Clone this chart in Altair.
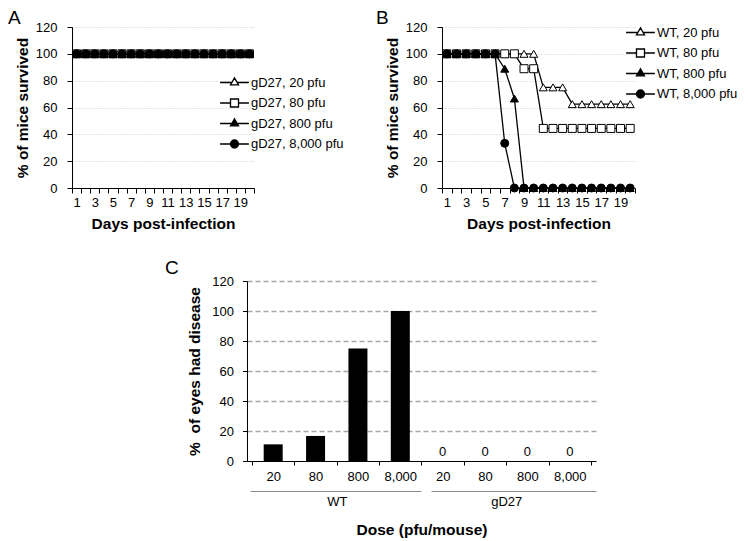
import json
import altair as alt
import pandas as pd

FONT = "Liberation Sans"

# ---------------- data ----------------
days = [1, 2, 3, 4, 5, 6, 7, 8, 9, 10, 11, 12, 13, 14, 15, 16, 17, 18, 19, 20]

gd27_series = ["gD27, 20 pfu", "gD27, 80 pfu", "gD27, 800 pfu", "gD27, 8,000 pfu"]
gd27_20 = [100, 100, 100, 100, 100, 100, 100, 100, 100, 100, 100, 100, 100, 100, 100, 100, 100, 100, 100, 100]
gd27_80 = [100, 100, 100, 100, 100, 100, 100, 100, 100, 100, 100, 100, 100, 100, 100, 100, 100, 100, 100, 100]
gd27_800 = [100, 100, 100, 100, 100, 100, 100, 100, 100, 100, 100, 100, 100, 100, 100, 100, 100, 100, 100, 100]
gd27_8000 = [100, 100, 100, 100, 100, 100, 100, 100, 100, 100, 100, 100, 100, 100, 100, 100, 100, 100, 100, 100]

wt_series = ["WT, 20 pfu", "WT, 80 pfu", "WT, 800 pfu", "WT, 8,000 pfu"]
wt_20 = [100, 100, 100, 100, 100, 100, 100, 100, 100, 100, 75, 75, 75, 62.5, 62.5, 62.5, 62.5, 62.5, 62.5, 62.5]
wt_80 = [100, 100, 100, 100, 100, 100, 100, 100, 88.9, 88.9, 44.4, 44.4, 44.4, 44.4, 44.4, 44.4, 44.4, 44.4, 44.4, 44.4]
wt_800 = [100, 100, 100, 100, 100, 100, 88.9, 66.7, 0, 0, 0, 0, 0, 0, 0, 0, 0, 0, 0, 0]
wt_8000 = [100, 100, 100, 100, 100, 100, 33.3, 0, 0, 0, 0, 0, 0, 0, 0, 0, 0, 0, 0, 0]

dose_labels = ["20", "80", "800", "8,000"]
groups = ["WT", "gD27"]
eyes_wt = [11.1, 16.7, 75, 100]
eyes_gd27 = [0, 0, 0, 0]

# marker styles
plot_shapes = ["triangle-up", "square", "triangle-up", "circle"]
fills = ["white", "white", "black", "black"]
strokes = ["black", "black", "black", "black"]
tri = "M0,-1.155L-1,0.577L1,0.577Z"
sq = "M-1,-1H1V1H-1Z"
circ = "M1,0A1,1,0,1,1,-1,0A1,1,0,1,1,1,0Z"
stub_t = "M-3.6,0H-0.67M0.67,0H3.6"
stub_s = "M-3.6,0H-1M1,0H3.6"
legend_shapes = [stub_t + tri, stub_s + sq, stub_t + tri, stub_s + circ]

common = dict(domainColor="black", tickColor="black", labelColor="black",
              titleColor="black", labelFont=FONT, titleFont=FONT, labelFontSize=13,
              titleFontSize=15.5, titleFontWeight="bold", domainWidth=1, tickWidth=1)


def survival(letter, series, values, width, leg_x, leg_y, letter_dx):
    rows = []
    for s, vals in zip(series, values):
        for d, v in zip(days, vals):
            rows.append({"series": s, "day": d, "pct": v})
    df = pd.DataFrame(rows)
    base = alt.Chart(df)
    x = alt.X("day:Q",
              scale=alt.Scale(domain=[0.5, 20.5], nice=False, zero=False),
              axis=alt.Axis(values=[i / 2 for i in range(1, 42)],
                            labelExpr="datum.value % 2 == 1 ? format(datum.value, 'd') : ''",
                            tickOpacity={"condition": {"test": "datum.value % 1 == 0", "value": 0}, "value": 1},
                            tickSize=5, labelPadding=3, labelOverlap=False, labelFlush=False,
                            grid=False, title="Days post-infection", titlePadding=7, **common))
    y = alt.Y("pct:Q",
              scale=alt.Scale(domain=[0, 120], nice=False),
              axis=alt.Axis(values=[0, 20, 40, 60, 80, 100, 120], title="% of mice survived",
                            tickSize=5, labelPadding=10, titlePadding=5, grid=True,
                            gridColor="#c8c8c8", gridDash=[1, 2], gridWidth=1,
                            gridOpacity={"condition": {"test": "datum.value == 0", "value": 0}, "value": 1},
                            **common))
    lines = base.mark_line(color="black", strokeWidth=1.3).encode(
        x=x, y=y, detail="series:N", order="day:Q")
    pts = base.mark_point(filled=True, stroke="black", strokeWidth=1, size=64, opacity=1).encode(
        x=x, y=y,
        shape=alt.Shape("series:N", scale=alt.Scale(domain=series, range=plot_shapes), legend=None),
        fill=alt.Fill("series:N", scale=alt.Scale(domain=series, range=fills), legend=None))
    leg = alt.Legend(orient="none", legendX=leg_x, legendY=leg_y, title=None,
                     symbolSize=64, symbolStrokeWidth=1.3, symbolStrokeColor="black",
                     symbolOpacity=1, labelFontSize=13, labelFont=FONT, labelColor="black",
                     labelOffset=10, rowPadding=5.5, padding=0)
    legend_layer = base.transform_filter("false").mark_point(
        filled=True, strokeWidth=1.3, size=64).encode(
        x=x, y=y,
        shape=alt.Shape("series:N", scale=alt.Scale(domain=series, range=legend_shapes), legend=leg),
        fill=alt.Fill("series:N", scale=alt.Scale(domain=series, range=fills), legend=leg),
        stroke=alt.Stroke("series:N", scale=alt.Scale(domain=series, range=strokes), legend=leg))
    return alt.layer(lines, pts, legend_layer).resolve_scale(
        shape="independent", fill="independent", stroke="independent").properties(
        width=width, height=161,
        title=alt.TitleParams(letter, anchor="start", frame="group", dx=letter_dx, offset=-6.5,
                              fontSize=19, fontWeight="normal", font=FONT, color="black"))


panel_a = survival("A", gd27_series, [gd27_20, gd27_80, gd27_800, gd27_8000], 182, 156, 49, -64)
panel_b = survival("B", wt_series, [wt_20, wt_80, wt_800, wt_8000], 193, 192, -1, -66)

# ---------------- panel C ----------------
rows = []
for gi, (g, vals) in enumerate(zip(groups, [eyes_wt, eyes_gd27])):
    for di, (d, v) in enumerate(zip(dose_labels, vals)):
        rows.append({"group": g, "dose": d, "pos": gi * 4 + di + 0.5, "pct": v})
cdf = pd.DataFrame(rows)
cbase = alt.Chart(cdf)
xscale = alt.Scale(domain=[0, 8], nice=False, zero=False)
yC = alt.Y("pct:Q", scale=alt.Scale(domain=[0, 120], nice=False),
           axis=alt.Axis(values=[0, 20, 40, 60, 80, 100, 120], title="% \u00a0of eyes had disease",
                         tickSize=4.5, labelPadding=9, titlePadding=9.5, grid=True,
                         gridColor="#a6a6a6", gridDash=[5, 3], gridWidth=1.5,
                         gridOpacity={"condition": {"test": "datum.value == 0", "value": 0}, "value": 1},
                         **common))
bars = cbase.mark_bar(size=19, color="black").encode(
    x=alt.X("pos:Q", scale=xscale,
            axis=alt.Axis(orient="bottom", values=[i / 2 for i in range(0, 17)],
                          labelExpr="datum.value % 1 == 0.5 ? " + json.dumps(dose_labels) + "[floor(datum.value) % 4] : ''",
                          tickOpacity={"condition": {"test": "datum.value % 1 != 0", "value": 0}, "value": 1},
                          tickSize=4, labelPadding=5, labelOverlap=False, labelFlush=False,
                          grid=False, title=None, **common)),
    y=yC)
zeros = cbase.transform_filter(alt.datum.group == "gD27").mark_text(
    baseline="alphabetic", dy=-5, fontSize=13, font=FONT, color="black").encode(
    x=alt.X("pos:Q", scale=xscale,
            axis=alt.Axis(orient="bottom", values=[2, 6],
                          labelExpr=json.dumps(groups) + "[floor(datum.value / 4)]",
                          ticks=False, tickSize=0, offset=30,
                          domainDash=[171, 10, 165, 3], domainDashOffset=346,
                          labelPadding=4, labelOverlap=False, labelFlush=False, grid=False,
                          title="Dose (pfu/mouse)", titlePadding=14,
                          **{**common, "domainColor": "#8c8c8c"})),
    y=yC,
    text=alt.Text("pct:Q", format="d"))
panel_c = alt.layer(bars, zeros).resolve_axis(x="independent").properties(
    width=349, height=180,
    title=alt.TitleParams("C", anchor="start", frame="group", dx=-82, offset=-3,
                          fontSize=19, fontWeight="normal", font=FONT, color="black"))


def spacer(w, h):
    return alt.Chart(pd.DataFrame({"v": [0]})).mark_point(opacity=0).encode(
        x=alt.X("v:Q", axis=None), y=alt.Y("v:Q", axis=None)).properties(width=w, height=h)


row1 = alt.hconcat(panel_a, panel_b, spacing=188, bounds="flush")
row2 = alt.hconcat(spacer(165, 180), panel_c, spacing=10, bounds="flush")

chart = alt.vconcat(row1, row2, spacing=27).properties(
    padding={"left": 0, "top": 0, "right": 0, "bottom": 0}
).configure(font=FONT).configure_view(stroke="transparent", strokeWidth=0)

chart.save("out.html", embed_options={"renderer": "svg", "actions": False})
